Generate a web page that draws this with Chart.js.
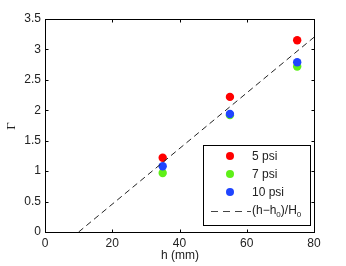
<!DOCTYPE html>
<html>
<head>
<meta charset="utf-8">
<script src="https://cdn.jsdelivr.net/npm/chart.js@4"></script>
<style>
  html, body { margin: 0; padding: 0; background: #fff; }
  #wrap { width: 346px; height: 266px; }
</style>
</head>
<body>
<div id="wrap"><canvas id="gammaChart" width="346" height="266"></canvas></div>
<script>
// h (mm)
const hValues = [35, 55, 75];
// Gamma cho từng áp suất
const gamma5psi = [1.22, 2.22, 3.15];
const gamma7psi = [0.97, 1.92, 2.72];
const gamma10psi = [1.08, 1.94, 2.79];
// đường (h-h0)/H0
const fitLineX = [10, 80];
const fitLineY = [0, 3.2];

const xTicks = [0, 20, 40, 60, 80];
const yTicks = [0, 0.5, 1, 1.5, 2, 2.5, 3, 3.5];

const seriesNames = ['5 psi', '7 psi', '10 psi'];
const seriesColors = ['#ff0000', '#5ef018', '#1f44ff'];
const fitLabel = '(h\u2212h\u2080)/H\u2080';

const FONT = '"Liberation Sans", Arial, sans-serif';

function toPoints(xs, ys) {
    return xs.map((x, i) => ({ x: x, y: ys[i] }));
}

// Vẽ khung, vạch chia hướng vào trong, nhãn trục và chú thích
const framePlugin = {
    id: 'frame',
    afterDraw(chart) {
        const ctx = chart.ctx;
        const a = chart.chartArea;
        const xs = chart.scales.x;
        const ys = chart.scales.y;
        const L = Math.round(a.left) + 0.5, R = Math.round(a.right) + 0.5;
        const T = Math.round(a.top) + 0.5, B = Math.round(a.bottom) + 0.5;
        ctx.save();
        ctx.strokeStyle = '#000';
        ctx.lineWidth = 1;
        ctx.setLineDash([]);
        ctx.strokeRect(L, T, R - L, B - T);
        ctx.beginPath();
        xTicks.forEach(v => {
            const px = Math.round(xs.getPixelForValue(v)) + 0.5;
            ctx.moveTo(px, B); ctx.lineTo(px, B - 3);
            ctx.moveTo(px, T); ctx.lineTo(px, T + 3);
        });
        yTicks.forEach(v => {
            const py = Math.round(ys.getPixelForValue(v)) + 0.5;
            ctx.moveTo(L, py); ctx.lineTo(L + 3, py);
            ctx.moveTo(R, py); ctx.lineTo(R - 3, py);
        });
        ctx.stroke();

        // nhãn trục
        ctx.fillStyle = '#222';
        ctx.font = '12px ' + FONT;
        ctx.textAlign = 'center';
        ctx.textBaseline = 'middle';
        ctx.fillText('h (mm)', (L + R) / 2, 256);
        ctx.save();
        ctx.translate(12, 126);
        ctx.rotate(-Math.PI / 2);
        ctx.font = '13px "Liberation Serif", serif';
        ctx.fillText('\u0393', 0, 0);
        ctx.restore();

        // chú thích
        const bx = 203.5, by = 145.5, bw = 107, bh = 80;
        ctx.fillStyle = '#fff';
        ctx.fillRect(bx, by, bw, bh);
        ctx.strokeStyle = '#000';
        ctx.strokeRect(bx, by, bw, bh);
        const rows = [156, 174, 192, 211];
        ctx.textAlign = 'left';
        ctx.font = '12px ' + FONT;
        seriesNames.forEach((name, i) => {
            ctx.fillStyle = seriesColors[i];
            ctx.beginPath();
            ctx.arc(230, rows[i], 4, 0, Math.PI * 2);
            ctx.fill();
            ctx.fillStyle = '#222';
            ctx.fillText(name, 252, rows[i] + 1);
        });
        ctx.strokeStyle = '#444';
        ctx.setLineDash([7, 5]);
        ctx.beginPath();
        ctx.moveTo(211, rows[3] + 0.5);
        ctx.lineTo(251, rows[3] + 0.5);
        ctx.stroke();
        ctx.setLineDash([]);
        ctx.fillStyle = '#222';
        ctx.fillText('(h\u2212h', 252, rows[3]);
        let w = ctx.measureText('(h\u2212h').width;
        ctx.font = '8px ' + FONT;
        ctx.fillText('0', 252 + w, rows[3] + 4);
        let w2 = ctx.measureText('0').width;
        ctx.font = '12px ' + FONT;
        ctx.fillText(')/H', 252 + w + w2, rows[3]);
        let w3 = ctx.measureText(')/H').width;
        ctx.font = '8px ' + FONT;
        ctx.fillText('0', 252 + w + w2 + w3, rows[3] + 4);
        ctx.restore();
    }
};

const scatterSets = [gamma5psi, gamma7psi, gamma10psi].map((ys, i) => ({
    type: 'scatter',
    label: seriesNames[i],
    data: toPoints(hValues, ys),
    backgroundColor: seriesColors[i],
    borderWidth: 0,
    pointRadius: 4.2,
    pointHoverRadius: 4.2,
    order: 3 - i
}));

const chart = new Chart(document.getElementById('gammaChart'), {
    type: 'scatter',
    data: {
        datasets: [
            ...scatterSets,
            {
                type: 'line',
                label: fitLabel,
                data: toPoints(fitLineX, fitLineY),
                borderColor: '#222',
                borderWidth: 1,
                borderDash: [6, 4],
                pointRadius: 0,
                fill: false,
                order: 0
            }
        ]
    },
    options: {
        responsive: false,
        animation: false,
        events: [],
        layout: { padding: { left: 0, top: 19, right: 32, bottom: 0 } },
        plugins: { legend: { display: false }, tooltip: { enabled: false } },
        scales: {
            x: {
                type: 'linear',
                min: 0, max: 80,
                afterBuildTicks: s => { s.ticks = xTicks.map(v => ({ value: v })); },
                afterFit: s => { s.height = 34; },
                grid: { display: false, drawTicks: false },
                border: { display: false },
                ticks: { color: '#222', padding: 4, font: { size: 12, family: FONT }, callback: v => String(v) }
            },
            y: {
                type: 'linear',
                min: 0, max: 3.5,
                afterBuildTicks: s => { s.ticks = yTicks.map(v => ({ value: v })); },
                afterFit: s => { s.width = 45; },
                grid: { display: false, drawTicks: false },
                border: { display: false },
                ticks: { color: '#222', padding: 4, font: { size: 12, family: FONT }, callback: v => String(v) }
            }
        }
    },
    plugins: [framePlugin]
});
</script>
</body>
</html>
